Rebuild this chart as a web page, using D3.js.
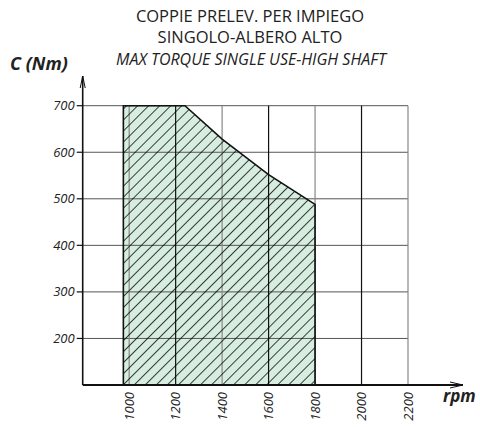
<!DOCTYPE html>
<html lang="it">
<head>
<meta charset="UTF-8">
<title>Coppie prelev.</title>
<script src="https://d3js.org/d3.v7.min.js"></script>
<style>
  body { margin: 0; padding: 0; background: #fff; }
  text { font-family: 'Open Sans', sans-serif; fill: #222; }
</style>
</head>
<body>
<svg id="chart" width="480" height="427"></svg>
<script>
// data
var rpmTicks = [1000, 1200, 1400, 1600, 1800, 2000, 2200];
var torqueTicks = [200, 300, 400, 500, 600, 700];
var areaRpm = [975, 1240, 1400, 1600, 1800, 1800, 975];
var areaTorque = [700, 700, 628, 552, 488, 100, 100];
var titleLines = ["COPPIE PRELEV. PER IMPIEGO", "SINGOLO-ALBERO ALTO"];
var subTitle = "MAX TORQUE SINGLE USE-HIGH SHAFT";

var svg = d3.select("#chart");

var x = d3.scaleLinear().domain([800, 2200]).range([82.7, 408]);
var y = d3.scaleLinear().domain([100, 700]).range([385, 105.7]);

// hatch pattern
var defs = svg.append("defs");
var pat = defs.append("pattern")
  .attr("id", "hatch")
  .attr("patternUnits", "userSpaceOnUse")
  .attr("width", 7.8)
  .attr("height", 7.8)
  .attr("patternTransform", "rotate(45)");
pat.append("line")
  .attr("x1", 0).attr("y1", 0).attr("x2", 0).attr("y2", 7.8)
  .attr("stroke", "#000").attr("stroke-width", 1.5);

var pts = areaRpm.map(function(d, i) { return [x(d), y(areaTorque[i])]; });
var line = d3.line().curve(d3.curveLinearClosed);

// fill
svg.append("path")
  .attr("d", line(pts))
  .attr("fill", "#d6ede0");

// grid
svg.append("g").selectAll("line")
  .data(torqueTicks)
  .enter().append("line")
  .attr("x1", x(800)).attr("x2", x(2200))
  .attr("y1", function(d) { return y(d); })
  .attr("y2", function(d) { return y(d); })
  .attr("stroke", "#555").attr("stroke-width", 1);

svg.append("g").selectAll("line")
  .data(rpmTicks)
  .enter().append("line")
  .attr("x1", function(d) { return x(d); })
  .attr("x2", function(d) { return x(d); })
  .attr("y1", y(700)).attr("y2", y(100))
  .attr("stroke", function(d, i) { return i % 2 == 0 ? "#888" : "#111"; })
  .attr("stroke-width", 1.2);

// hatch + outline
svg.append("path")
  .attr("d", line(pts))
  .attr("fill", "url(#hatch)")
  .attr("stroke", "#111")
  .attr("stroke-width", 1.6);

// axes
var axisG = svg.append("g").attr("stroke", "#111").attr("fill", "none");
axisG.append("line")
  .attr("x1", x(800)).attr("x2", x(800))
  .attr("y1", y(100)).attr("y2", 76)
  .attr("stroke-width", 1.6);
axisG.append("path")
  .attr("d", "M" + (x(800) - 2.5) + ",88 L" + x(800) + ",76 L" + (x(800) + 2.5) + ",88")
  .attr("stroke-width", 1);
axisG.append("line")
  .attr("x1", x(800)).attr("x2", 463)
  .attr("y1", y(100)).attr("y2", y(100))
  .attr("stroke-width", 2);
axisG.append("path")
  .attr("d", "M450," + (y(100) - 3) + " L463," + y(100) + " L450," + (y(100) + 3))
  .attr("stroke-width", 1);

// y ticks and labels
var yt = svg.append("g").selectAll("g")
  .data(torqueTicks)
  .enter().append("g")
  .attr("transform", function(d) { return "translate(0," + y(d) + ")"; });
yt.append("line")
  .attr("x1", x(800) - 6).attr("x2", x(800))
  .attr("stroke", "#111").attr("stroke-width", 1.2);
yt.append("text")
  .attr("x", x(800) - 8)
  .attr("dy", "0.35em")
  .attr("text-anchor", "end")
  .style("font-size", "13px")
  .style("font-style", "italic")
  .text(function(d) { return d; });

// x labels
svg.append("g").selectAll("text")
  .data(rpmTicks)
  .enter().append("text")
  .attr("transform", function(d) { return "translate(" + x(d) + ",392)rotate(-90)"; })
  .attr("dy", "0.35em")
  .attr("text-anchor", "end")
  .style("font-size", "13px")
  .style("font-style", "italic")
  .text(function(d) { return d; });

// titles
svg.append("g").selectAll("text")
  .data(titleLines)
  .enter().append("text")
  .attr("x", 250)
  .attr("y", function(d, i) { return 22 + i * 21; })
  .attr("text-anchor", "middle")
  .style("font-size", "16.5px")
  .text(function(d) { return d; });

svg.append("text")
  .attr("x", 251)
  .attr("y", 65)
  .attr("text-anchor", "middle")
  .style("font-size", "16px")
  .style("font-style", "italic")
  .text(subTitle);

svg.append("text")
  .attr("x", 10).attr("y", 70)
  .style("font-size", "18px")
  .style("font-style", "italic")
  .style("font-weight", "bold")
  .text("C (Nm)");

svg.append("text")
  .attr("x", 443).attr("y", 402)
  .style("font-size", "17px")
  .style("font-style", "italic")
  .style("font-weight", "bold")
  .text("rpm");
</script>
</body>
</html>
